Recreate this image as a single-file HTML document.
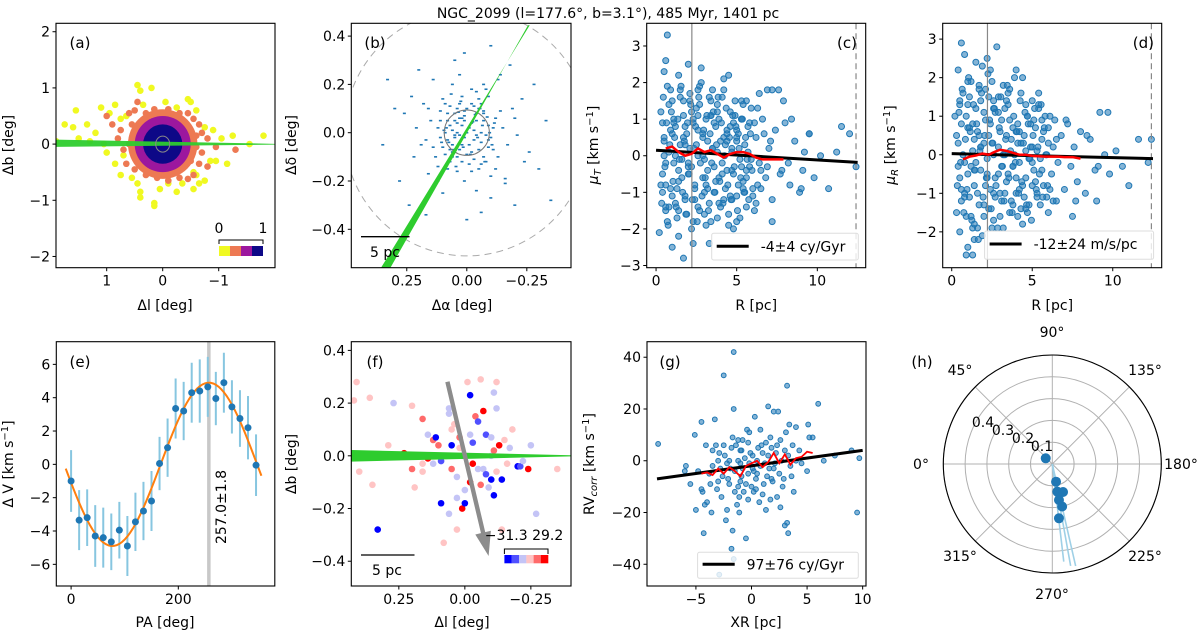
<!DOCTYPE html>
<html><head><meta charset="utf-8"><style>
html,body{margin:0;padding:0;background:#fff}
svg{display:block;font-family:"DejaVu Sans","Liberation Sans",sans-serif}
</style></head><body>
<svg id="fig" width="1200" height="633" viewBox="0 0 1200 633" xmlns="http://www.w3.org/2000/svg">
<text x="608" y="18" font-size="14" text-anchor="middle">NGC_2099 (l=177.6°, b=3.1°), 485 Myr, 1401 pc</text>
</svg>
<script>
// ---------- data ----------
const aYellowL=[1.55,1.75,1.6,1.35,1.1,0.95,0.85,0.75,1.2,1.5,1.9,1.3,1.05,0.45,0.4,0.2,0.65,0.35,-0.05,-0.25,-0.45,-0.5,-0.6,-0.75,-0.9,-1.05,-1.25,-1.8,-1.55,0.85,0.75,0.55,0.45,0.4,0.4,0.15,0.15,0.05,-0.1,-0.25,-0.35,-0.55,-0.65,-0.75,-0.85,-0.95,-1.15,-0.55,-0.6,1.0,0.7];
const aYellowB=[0.6,0.35,0.3,0.35,0.65,0.55,0.7,0.45,0.2,0.1,0.05,0.05,0.0,1.05,0.95,1.0,0.5,0.7,0.75,0.65,0.8,0.75,0.6,0.3,0.25,0.1,0.15,0.15,0.0,-0.35,-0.55,-0.6,-0.7,-0.85,-0.95,-1.05,-1.1,-0.8,-0.7,-0.85,-0.7,-0.8,-0.7,-0.65,-0.3,-0.3,-0.35,-0.5,-0.55,-0.15,-0.2];
const aOrangeL=[1.0,0.9,0.75,0.8,0.7,0.6,0.5,0.3,0.15,-0.1,-0.3,-0.45,-0.55,-0.65,-0.7,-0.8,-0.95,-0.7,-0.8,-0.65,-0.55,-0.45,-0.3,-0.1,0.1,0.3,0.5,0.65,0.55,-0.5,0.45,-0.6,-1.3,0.4,-0.4,0.6,-0.6];
const aOrangeB=[0.5,0.35,0.25,0.1,-0.1,0.55,0.6,0.55,0.62,0.62,0.55,0.55,0.45,0.35,0.2,0.1,-0.05,-0.15,-0.4,-0.35,-0.55,-0.62,-0.6,-0.65,-0.6,-0.55,-0.45,-0.35,0.35,-0.3,0.75,0.15,-0.1,-0.3,0.35,0.0,-0.05];
const aBlobRadii=[0.62,0.5,0.35];
const aBlobColors=['#ed7953','#9c179e','#0d0887'];

const bA=[0,0.02,-0.03,0.05,-0.06,0.01,-0.02,0.08,-0.09,0.04,-0.05,0.1,-0.11,0.07,-0.08,0.12,-0.12,0.03,-0.01,0.06,-0.04,0.02,-0.07,0.09,0.0,0.11,-0.1,0.05,-0.03,0.08,-0.06,0.13,-0.13,0.02,-0.02,0.04,-0.05,0.15,-0.15,0.1,-0.09,0.12,-0.12,0.17,-0.17,0.01,0.06,-0.07,0.18,-0.19,0.16,-0.16,0.21,-0.21,0.03,-0.04,0.22,-0.23,0.1,-0.1,0.14,-0.14,0.26,-0.26,0.28,-0.28,0.2,-0.2,0.3,-0.3,0.05,-0.06,0.33,-0.33,0.17,-0.18,0.35,-0.35,0.24,-0.1,0.01,0.0,0.01,-0.01,0.03,-0.03,0.04,-0.04,0.02,-0.02,0.06,-0.06,0.03,-0.05,0.07,-0.07,0.01,-0.01,0.09,-0.08,0.05,-0.04,0.06,-0.09,0.0,0.08,-0.11,0.11,0.04,-0.02,0.07,-0.07,
0.015,-0.025,0.035,-0.045,0.055,-0.065,0.075,-0.085,0.095,-0.105,0.02,-0.03,0.04,-0.05,0.06,-0.07,0.08,-0.09,0.01,-0.015,0.025,-0.035,0.045,-0.055,0.065,-0.075,0.085,-0.095,0.105,-0.115,0.03,-0.02,0.05,-0.04,0.07,-0.06,0.09,-0.08,0.11,-0.1,0.14,-0.14,0.16,-0.16,0.19,-0.2,0.23,-0.24,0.12,-0.13];
const bD=[0,0.03,0.01,-0.02,-0.04,0.07,-0.08,0.05,0.03,-0.1,0.1,-0.06,-0.07,0.11,-0.12,0.02,0.06,0.12,-0.13,0.01,0.05,-0.05,0.08,-0.09,0.1,0.09,-0.02,0.08,-0.11,-0.03,0.12,-0.1,-0.1,0.15,0.18,-0.16,-0.15,0.05,0.02,0.14,0.15,-0.14,-0.15,-0.03,-0.05,-0.2,0.2,0.2,0.12,0.1,-0.17,-0.19,0.02,-0.01,0.24,-0.24,-0.1,0.14,-0.25,-0.27,0.22,0.24,0.08,-0.08,-0.2,0.2,0.26,-0.3,0.1,-0.15,0.3,-0.33,0.22,0.05,-0.34,0.28,-0.05,-0.28,-0.3,0.36,0.33,-0.36,-0.02,0.02,-0.01,-0.03,0.04,-0.01,0.06,0.04,-0.05,0.0,-0.07,-0.07,0.03,0.05,0.09,-0.05,0.0,-0.01,0.05,0.08,-0.08,-0.06,-0.09,0.08,0.02,-0.02,0.1,0.12,-0.12,-0.1,
-0.06,0.045,0.085,-0.02,-0.07,0.03,-0.04,0.065,0.01,-0.05,-0.12,0.11,0.0,0.14,-0.1,0.09,-0.15,-0.03,0.05,-0.09,0.13,0.075,-0.14,0.1,0.16,-0.12,0.02,0.0,-0.04,0.04,0.06,-0.16,-0.01,0.17,-0.07,-0.13,0.12,0.18,0.05,-0.18,-0.06,0.09,0.1,-0.21,-0.05,0.06,0.15,-0.12,-0.2,0.22];

const cR=[0.3,0.4,0.5,0.6,0.7,0.8,0.9,1.0,1.1,1.2,1.3,1.4,1.5,1.6,1.7,1.8,1.9,2.0,2.1,2.2,2.3,2.4,2.5,2.6,2.7,2.8,2.9,3.0,3.1,3.2,3.3,3.4,3.5,3.6,3.7,3.8,3.9,4.0,4.1,4.2,4.3,4.4,4.5,4.6,4.7,4.8,4.9,5.0,5.1,5.2,5.3,5.4,5.5,5.6,5.7,5.8,5.9,6.0,6.2,6.4,6.6,6.8,7.0,7.2,7.4,7.6,7.8,8.0,8.3,8.6,8.9,9.2,9.5,9.8,10.2,10.7,11.2,12.0,12.4,0.2,0.5,0.6,0.7,1.0,1.4,1.7,2.0,2.3,2.8,3.3,4.5,6.9,7.2,7.9,7.2,4.8,0.4,0.6,0.8,1.0,1.2,1.4,1.5,1.7,1.9,2.1,2.2,2.4,2.6,2.7,2.9,3.1,3.2,3.4,3.6,3.8,4.0,4.1,4.3,4.4,4.6,4.8,5.0,5.2,5.4,5.6,5.8,6.1,6.3,6.5,6.7,6.9,0.3,0.5,0.7,0.9,1.1,1.3,1.6,1.8,2.0,2.3,2.5,2.7,3.0,3.3,3.5,3.7,3.9,4.2,4.5,4.7,4.9,5.1,5.3,5.5,5.7,6.0,6.4,0.4,0.6,0.9,1.2,1.5,1.8,2.1,2.4,2.6,2.9,3.1,3.4,3.6,3.9,4.2,4.4,4.7,5.0,5.3,5.6,5.9,6.2,8.2,9.0,11.5,9.5,
0.35,0.45,0.55,0.65,0.75,0.85,0.95,1.05,1.15,1.25,1.35,1.45,1.55,1.65,1.75,1.85,1.95,2.05,2.15,2.25,2.35,2.45,2.55,2.65,2.75,2.85,2.95,3.05,3.15,3.25,3.35,3.45,3.55,3.65,3.75,3.85,3.95,4.05,4.15,4.25,4.35,4.45,4.55,4.65,4.75,4.85,4.95,5.05,5.15,5.25,5.35,5.45,5.55,5.65,5.75,5.85,5.95,6.1,6.3,6.5,0.5,0.8,1.1,1.4,1.7,2.0,2.3,2.6,2.9,3.2,3.5,3.8,4.1,4.4,4.7,5.0,5.3,5.6,0.6,1.0,1.4,1.8,2.2,2.6,3.0,3.4,3.8,4.2,4.6,5.0,5.4,7.1,7.7,8.4,9.1,9.7];
const cMu=[1.2,-0.5,0.4,-1.4,1.9,0.1,-0.9,1.5,-0.2,0.8,-1.7,2.2,0.3,-0.6,1.1,-1.2,0.6,-0.3,1.7,-2.0,0.9,-0.8,1.3,0.0,-1.5,2.0,0.5,-1.0,1.0,-0.4,1.6,-1.8,0.2,0.9,-0.7,1.4,-1.3,0.4,-0.2,2.1,-0.9,0.7,-1.6,1.2,0.1,-0.5,1.5,-1.1,0.6,-0.1,1.0,-0.7,0.3,-1.4,0.8,-0.3,1.3,-0.9,0.5,-0.2,1.0,-0.6,0.2,-1.2,0.7,1.8,-0.4,0.9,-0.8,0.4,-1.0,0.1,0.6,-0.6,0.0,-0.9,0.1,0.6,-0.3,-2.1,2.3,2.6,3.3,-2.5,-2.2,-2.8,2.5,-2.4,2.4,-2.4,2.2,1.8,1.8,1.5,-1.8,-2.0,0.9,-0.2,1.4,-1.1,0.0,-0.4,1.8,0.5,-1.6,0.2,1.2,-1.2,0.7,1.9,-0.6,-1.9,0.4,1.1,-1.0,0.1,-1.4,1.6,0.3,-0.4,-1.1,0.9,0.5,-1.7,1.4,-0.4,0.9,-1.5,1.3,-0.9,0.6,-0.3,-0.8,0.0,-1.8,0.7,1.0,-0.9,-0.1,0.8,-0.5,-1.8,0.3,1.4,-0.1,-1.3,1.8,0.8,-0.6,0.5,-1.9,0.2,1.1,-0.8,1.5,-1.0,0.1,-1.1,1.7,-1.0,-1.5,1.8,-1.3,1.6,-1.1,1.5,-0.9,1.1,0.0,-0.8,1.5,-0.3,1.0,-1.2,0.6,-0.4,0.4,1.0,-0.6,-0.1,-1.3,-0.2,-0.9,0.8,
0.6,-1.3,1.6,-0.3,0.9,-1.9,0.3,1.2,-0.7,0.5,-1.4,1.0,-0.1,1.9,-1.0,0.4,-1.6,0.9,-0.5,1.4,-1.2,0.2,0.8,-1.8,1.6,-0.2,-1.1,0.7,-0.6,1.1,-1.5,0.6,-0.2,1.2,-1.0,0.3,1.6,-0.7,0.9,-1.3,0.0,1.3,-0.8,0.5,-1.2,1.1,-0.3,0.8,-1.5,0.2,-0.6,1.0,-1.0,0.5,-0.1,-1.2,0.6,-0.4,0.9,-0.8,-0.4,0.5,-1.4,0.9,-0.7,1.5,-0.2,1.0,-1.4,0.6,-0.9,0.2,1.2,-0.5,0.4,-1.2,0.7,-0.3,1.5,-0.8,0.6,-1.5,0.3,-0.3,1.8,-1.6,1.1,-1.7,1.8,0.8,-1.8,-0.9,0.4,-0.5,1.0,-0.4];
const cRunR=[0.6,1.0,1.4,1.8,2.2,2.6,3.0,3.4,3.8,4.2,4.6,5.0,5.4,5.8,6.2,6.6,7.0,7.4,7.9];
const cRunMu=[0.2,0.25,0.1,0.0,0.05,0.2,0.1,0.15,0.05,-0.05,0.05,0.1,0.1,0.05,-0.05,-0.1,-0.1,-0.1,-0.1];
const cFit=[0.15,-0.18];

const dR=[0.2,0.3,0.4,0.5,0.6,0.7,0.8,0.9,1.0,1.1,1.2,1.3,1.4,1.5,1.6,1.7,1.8,1.9,2.0,2.1,2.2,2.3,2.4,2.5,2.6,2.7,2.8,2.9,3.0,3.1,3.2,3.3,3.4,3.5,3.6,3.7,3.8,3.9,4.0,4.1,4.2,4.3,4.4,4.5,4.6,4.7,4.8,4.9,5.0,5.1,5.2,5.3,5.4,5.5,5.6,5.7,5.8,5.9,6.0,6.2,6.4,6.6,6.8,7.0,7.2,7.4,7.6,7.8,8.0,8.3,8.6,8.9,9.2,9.5,9.8,10.2,10.6,11.0,11.6,12.4,12.2,1.0,1.3,1.4,1.9,2.5,0.4,0.8,1.5,2.2,2.4,4.0,4.4,9.0,7.5,6.0,0.3,0.5,0.6,0.7,0.9,1.0,1.1,1.2,1.3,1.5,1.6,1.7,1.8,2.0,2.1,2.3,2.4,2.6,2.7,2.9,3.0,3.1,3.3,3.4,3.6,3.7,3.9,4.0,4.2,4.3,4.5,4.6,4.8,5.0,5.1,5.3,5.5,5.7,5.9,6.1,6.3,6.5,0.4,0.6,0.8,1.0,1.2,1.4,1.6,1.8,2.0,2.2,2.5,2.7,2.9,3.1,3.3,3.5,3.8,4.0,4.3,4.6,4.9,5.2,5.6,6.0,0.5,0.9,1.3,1.7,2.1,2.6,3.2,3.6,4.1,4.7,5.4,
0.35,0.45,0.55,0.65,0.75,0.85,0.95,1.05,1.15,1.25,1.35,1.45,1.55,1.65,1.75,1.85,1.95,2.05,2.15,2.25,2.35,2.45,2.55,2.65,2.75,2.85,2.95,3.05,3.15,3.25,3.35,3.45,3.55,3.65,3.75,3.85,3.95,4.05,4.15,4.25,4.35,4.45,4.55,4.65,4.75,4.85,4.95,5.05,5.15,5.25,5.35,5.45,5.55,5.65,5.75,5.85,5.95,6.1,6.3,6.5,0.5,0.8,1.1,1.4,1.7,2.0,2.3,2.6,2.9,3.2,3.5,3.8,4.1,4.4,4.7,5.0,5.3,5.6,0.6,1.0,1.4,1.8,2.2,2.6,3.0,3.4,3.8,4.2,4.6,5.0,5.4,7.1,7.7,8.4,9.1,9.7];
const dMu=[1.0,-1.5,0.3,-0.6,2.9,1.6,-0.2,-2.6,0.7,-1.1,1.9,0.1,-0.8,1.2,-1.9,0.5,-0.4,2.3,-1.3,0.9,-0.1,1.5,-0.9,0.3,-1.7,1.1,2.8,-0.5,0.6,-1.2,1.8,0.0,-0.7,1.3,-1.5,0.4,-0.3,2.0,-1.0,0.8,-0.2,1.6,-1.8,0.5,-0.6,1.0,-1.3,0.2,1.4,-0.4,0.7,-1.0,1.2,-0.1,0.4,-0.8,1.0,-1.1,0.3,-0.5,0.9,-0.2,0.5,-0.9,0.8,-0.3,0.2,-0.7,0.6,-1.0,0.4,-0.4,1.1,0.0,-0.5,0.1,-0.3,-0.8,0.4,0.4,-0.2,-2.4,-2.6,-2.2,-2.1,-1.9,2.2,2.6,2.4,2.5,2.2,2.2,2.0,-1.2,-1.6,-1.5,0.5,1.3,-1.2,0.0,1.0,-0.5,1.5,-1.6,0.8,-0.2,0.6,-1.3,1.4,0.3,-0.8,-1.4,0.8,0.0,-0.6,1.5,-1.6,0.9,-1.0,0.5,0.9,-1.2,0.0,0.6,-0.9,0.3,-1.1,1.3,-0.1,-0.8,0.9,0.1,-1.3,0.6,0.0,-0.9,0.2,-1.2,-0.3,0.8,-1.0,1.3,-0.3,0.4,-1.0,0.2,1.1,-0.6,1.9,-1.1,0.2,-0.3,1.2,-0.5,0.7,-0.6,-1.4,0.1,0.8,-0.7,-0.4,0.7,-2.0,-1.6,-1.9,1.8,1.7,1.4,-1.9,1.7,-1.6,-1.5,1.6,
-0.8,1.1,-0.2,1.7,-1.5,0.4,-0.9,2.0,0.6,-1.7,1.3,-0.4,0.8,-2.2,0.1,1.6,-1.1,0.5,-0.6,2.1,0.9,-1.4,0.3,1.2,-0.8,-1.9,0.7,1.5,-0.3,-1.2,0.4,1.8,-0.6,0.1,-1.5,1.0,-0.2,0.6,-1.0,1.4,-0.7,0.3,1.1,-1.3,0.8,-0.1,-1.7,0.5,1.2,-0.9,0.2,-0.5,1.3,-1.1,0.7,0.0,-0.8,1.0,-1.2,0.4,1.4,-1.1,0.7,-0.4,1.7,-1.6,0.5,-1.0,1.1,0.0,1.6,-1.3,0.3,-0.8,1.0,0.2,-1.1,0.9,-0.9,1.9,-1.8,0.2,-0.5,1.2,-1.0,1.4,-0.3,0.6,-1.4,-0.2,1.3,0.9,-1.2,0.5,-0.3,1.1];
const dRunR=[0.7,1.1,1.5,1.9,2.3,2.7,3.0,3.4,3.8,4.2,4.6,5.0,5.4,5.8,6.2,6.6,7.0,7.5,8.0];
const dRunMu=[-0.12,-0.05,-0.02,0.03,0.0,0.08,0.13,0.1,0.05,0.0,0.0,-0.03,-0.04,-0.05,-0.05,-0.05,-0.06,-0.06,-0.1];
const dFit=[0.03,-0.1];

const ePA=[0,15,30,45,60,75,90,105,120,135,150,165,180,195,210,225,240,255,270,285,300,315,330,345];
const eDV=[-1.0,-3.35,-3.2,-4.3,-4.4,-4.65,-3.95,-4.9,-3.45,-2.8,-2.2,0.05,1.0,3.35,3.2,4.3,4.4,4.65,3.95,4.9,3.45,2.75,2.2,-0.05];
const eErr=[1.85,1.8,1.7,1.85,1.8,1.7,1.7,1.8,1.75,1.75,1.8,1.6,1.75,1.8,1.75,1.8,1.9,1.8,1.6,1.8,1.6,1.7,1.9,1.85];
const eFitAmp=4.9, eFitPhase=257.0;

const fL=[0.41,0.42,0.36,0.27,0.4,0.35,0.29,0.2,0.23,0.33,0.16,0.14,0.12,0.2,0.19,0.16,0.14,0.1,0.11,0.09,0.12,0.06,0.06,0.05,0.05,0.04,0.03,0.03,0.02,0.01,0.0,0.06,0.09,0.08,0.03,-0.02,-0.01,0.02,0.01,-0.02,-0.03,-0.04,-0.05,-0.06,-0.07,-0.08,-0.1,-0.11,-0.12,-0.12,-0.05,-0.07,-0.09,-0.1,-0.12,-0.14,-0.11,-0.13,-0.15,-0.16,-0.17,-0.18,-0.2,-0.21,-0.22,-0.24,-0.25,-0.27,-0.35,-0.03,-0.06,0.0,0.05,-0.02,0.07,-0.1,0.16,-0.14,-0.08,-0.11];
const fB=[0.28,0.21,0.22,0.2,-0.06,-0.11,0.04,0.19,0.01,-0.28,0.14,0.08,0.06,-0.05,-0.12,-0.06,-0.01,0.04,0.07,-0.02,-0.03,0.16,0.18,0.1,0.04,0.12,-0.08,-0.16,0.03,-0.2,-0.18,-0.22,-0.18,-0.33,-0.28,0.23,0.28,0.07,0.0,0.08,0.05,0.15,0.13,0.29,0.17,0.08,0.07,0.24,0.18,0.28,-0.05,-0.05,-0.12,-0.09,-0.06,-0.09,-0.15,0.04,0.06,-0.03,0.03,0.1,-0.04,-0.04,-0.02,-0.05,0.04,-0.22,-0.05,-0.03,-0.11,-0.13,-0.05,-0.1,0.0,0.0,-0.03,-0.28,-0.07,0.02];
const fC=[3,3,3,2,3,3,3,3,5,0,4,2,4,4,3,3,5,4,0,1,2,2,2,3,0,3,2,2,3,5,0,2,0,3,3,0,3,4,2,2,1,4,1,3,5,1,2,2,2,3,2,2,2,0,3,0,0,5,3,3,2,3,0,1,2,5,2,2,3,5,4,2,4,5,2,2,3,3,1,4];
const fPalette=['#0000ff','#5050ff','#c4c4f6','#ffc4c4','#ff6a6a','#ff0000'];
const fArrow=[0.066,0.281,-0.09,-0.38];

const gX=[-8.4,-5.9,-5.5,-5.1,-5,-4.5,-4.4,-4.3,-4.2,-4.1,-4,-3.8,-3.7,-3.5,-3.3,-3.2,-3.1,-3,-2.9,-2.8,-2.7,-2.6,-2.5,-2.5,-2.4,-2.3,-2.2,-2.1,-2,-1.9,-1.8,-1.7,-1.7,-1.6,-1.6,-1.5,-1.4,-1.3,-1.2,-1.2,-1.1,-1.1,-1,-1,-0.9,-0.8,-0.8,-0.7,-0.6,-0.5,-0.4,-0.3,-0.3,-0.2,-0.1,0,0.1,0.2,0.3,0.4,0.5,0.6,0.7,0.8,0.9,1,1.1,1.2,1.3,1.4,1.5,1.5,1.6,1.7,1.8,1.9,2,2.1,2.2,2.3,2.4,2.5,2.6,2.7,2.8,2.9,3,3,3.1,3.2,3.2,3.3,3.4,3.5,3.6,3.8,4,4.3,4.5,5,5.1,5.2,5.5,6,6.5,7.5,9,9.5,9.7,-2,-1,0.5,1,2,-3,-0.5,0.2,1.3,-1.5,-0.2,-6,-4.8,-3.5,-2.2,-0.3,0.8,2.3,4,-1.8,-2.9,-1.6,3.3,1.7,-0.9,0.1,2.6,3.7,-3.6,-4.5,0.4,1.8,-1.2];
const gRV=[6.5,-2,-9,10,-19,15,-12,-28,-17,6,-16,-5,-9,-2,16,6,-11,-8,3,-3,-14,-6,33,6,2,-23,-19,-7,-9,-3,5,9,-27,20,42,-4,6,-17,0,-10,-14,-20,4,-8,-6,8,-3,-12,1,-30,12,-5,7,-1,3,-10,2,-4,17,-7,0,5,-16,-2,6,-13,-9,-1,7,-6,21,2,-3,-15,5,-8,19,-1,3,-14,19,-5,8,0,-10,-7,4,-25,11,29,-24,2,14,-2,-6,-12,13,4,-1,-4,14,9,9,22,0,2,4,-20,1,0,-1,-5,3,-3,0,-9,-12,-19,-12,11,-4,-4,4,-1,-15,12,6,0,-34,-44,-38,-28,9,4,-3,-18,6,-20,-11,-11,-7,8];
const gRunX=[-4.5,-4,-3.5,-3,-2.5,-2,-1.5,-1,-0.5,0,0.5,1,1.5,2,2.5,3,3.5,4,4.5,5,5.5];
const gRunRV=[-5,-4.5,-5.5,-3,-5,-2.5,-4,-6,-2,-1,0,-2.5,-0.5,3,-1,2.5,-1.5,1,1.5,3.5,3];
const gFitX=[-8.5,10], gFitY=[-7,4];

const hTheta=[41,258,259.8,249,259.5,257,263];
const hR=[0.04,0.083,0.129,0.1375,0.168,0.2,0.251];
const hLineTheta=[263.3,259.8,257.1];
const hLineR=[0.451,0.475,0.48];
const hRings=[0.1,0.2,0.3,0.4,0.5];
const hSpokes=[0,45,90,135,180,225,270,315];

// ---------- helpers ----------
const NS='http://www.w3.org/2000/svg';
const svg=document.getElementById('fig');
function S(tag,attrs,parent){const e=document.createElementNS(NS,tag);for(const k in attrs)e.setAttribute(k,attrs[k]);(parent||svg).appendChild(e);return e;}
function lin(d0,d1,p0,p1){return v=>p0+(v-d0)*(p1-p0)/(d1-d0);}
let clipN=0;
function axes(name,box,xd,yd){
  const g=S('g',{});
  
  
  const id='clip'+(clipN++);
  const cp=S('clipPath',{id:id},g);
  S('rect',{x:box.l,y:box.t,width:box.r-box.l,height:box.b-box.t},cp);
  const plot=S('g',{'clip-path':'url(#'+id+')'},g);
  
  
  return {g,plot,box,x:lin(xd[0],xd[1],box.l,box.r),y:lin(yd[0],yd[1],box.b,box.t)};
}
function frame(ax,xt,xl,yt,yl){
  const b=ax.box;
  const fr=S('rect',{x:b.l,y:b.t,width:b.r-b.l,height:b.b-b.t,fill:'none',stroke:'#000','stroke-width':1.1},ax.g);
  
  
  xt.forEach((v,i)=>{const px=ax.x(v);
    S('line',{x1:px,x2:px,y1:b.b,y2:b.b+3.5,stroke:'#000'},ax.g);
    const t=S('text',{x:px,y:b.b+18,'font-size':14,'text-anchor':'middle'},ax.g);
    t.textContent=xl[i];
    
    });
  yt.forEach((v,i)=>{const py=ax.y(v);
    S('line',{x1:b.l-3.5,x2:b.l,y1:py,y2:py,stroke:'#000'},ax.g);
    const t=S('text',{x:b.l-6,y:py+5,'font-size':14,'text-anchor':'end'},ax.g);
    t.textContent=yl[i];
    
    });
}
function label(txt,x,y,rot,parent,name,size){
  const t=S('text',{x:x,y:y,'font-size':size||14,'text-anchor':'middle',transform:rot?`rotate(-90 ${x} ${y})`:''},parent);
  t.innerHTML=txt;
  
  
  return t;
}
function dot(ax,x,y,r,fill,stroke,op,name){
  const c=S('circle',{cx:ax.x(x),cy:ax.y(y),r:r,fill:fill,stroke:stroke||'none','fill-opacity':op==null?1:op},ax.plot);
  
  
  return c;
}
function poly(ax,xs,ys,attrs,name){
  const p=S('polyline',Object.assign({points:xs.map((v,i)=>ax.x(v)+','+ax.y(ys[i])).join(' '),fill:'none'},attrs),ax.plot);
  
  
  return p;
}
const MIN='\u2212';
const blue='#1f77b4';

// ---------- (a) ----------
{const ax=axes('panel-a',{l:56,r:275,t:23.3,b:267.7},[1.905,-2.005],[-2.2,2.15]);
 aYellowL.forEach((v,i)=>dot(ax,v,aYellowB[i],3.3,'#f0f921',null,1,'yellow-point'));
 aOrangeL.forEach((v,i)=>dot(ax,v,aOrangeB[i],3.3,'#ed7953',null,1,'orange-point'));
 aBlobRadii.forEach((r,i)=>{const e=S('ellipse',{cx:ax.x(0),cy:ax.y(0),rx:Math.abs(ax.x(r)-ax.x(0)),ry:Math.abs(ax.y(r)-ax.y(0)),fill:aBlobColors[i]},ax.plot);
   
   });
 const gb=S('polygon',{points:`${ax.x(1.905)},${ax.y(0.08)} ${ax.x(-2.0)},${ax.y(0.005)} ${ax.x(-2.0)},${ax.y(-0.01)} ${ax.x(1.905)},${ax.y(-0.05)}`,fill:'#2ecc2e','fill-opacity':0.95},ax.plot);
 
 
 const cc=S('ellipse',{cx:ax.x(0),cy:ax.y(0),rx:7,ry:8,fill:'none',stroke:'#888'},ax.plot);
 
 
 ['#f0f921','#ed7953','#9c179e','#0d0887'].forEach((c,i)=>{const r=S('rect',{x:219+i*11,y:246,width:11,height:10,fill:c},ax.g);
   
   });
 S('path',{d:'M219,244 V240 H263 V244',fill:'none',stroke:'#000'},ax.g);
 label('0',219,233,false,ax.g,'colorbar-label');
 label('1',263,233,false,ax.g,'colorbar-label');
 label('(a)',80,48,false,ax.g,'panel-label',15);
 frame(ax,[1,0,-1],['1','0',MIN+'1'],[2,1,0,-1,-2],['2','1','0',MIN+'1',MIN+'2']);
 label('Δl [deg]',165,310,false,ax.g,'x-axis-title');
 label('Δb [deg]',13,145,true,ax.g,'y-axis-title');
}
// ---------- (b) ----------
{const ax=axes('panel-b',{l:351.3,r:571,t:23.3,b:267.7},[0.481,-0.434],[-0.559,0.453]);
 bA.forEach((v,i)=>{const r=S('rect',{x:ax.x(v)-1.5,y:ax.y(bD[i])-0.8,width:3,height:1.6,fill:blue},ax.plot);
   
   });
 const dc=S('ellipse',{cx:ax.x(0),cy:ax.y(0),rx:Math.abs(ax.x(0.51)-ax.x(0)),ry:Math.abs(ax.y(0.51)-ax.y(0)),fill:'none',stroke:'#aaa','stroke-dasharray':'7,5'},ax.plot);
 
 
 const sc=S('ellipse',{cx:ax.x(0),cy:ax.y(0),rx:Math.abs(ax.x(0.094)-ax.x(0)),ry:Math.abs(ax.y(0.094)-ax.y(0)),fill:'none',stroke:'#777'},ax.plot);
 
 
 const gb=S('polygon',{points:`${ax.x(0.37)},${ax.y(-0.58)} ${ax.x(-0.262)},${ax.y(0.445)} ${ax.x(-0.255)},${ax.y(0.445)} ${ax.x(0.33)},${ax.y(-0.58)}`,fill:'#2ecc2e'},ax.plot);
 
 
 S('line',{x1:361,x2:409.5,y1:236.7,y2:236.7,stroke:'#000','stroke-width':1.3},ax.g);
 label('5 pc',385,257,false,ax.g,'scale-bar-label');
 label('(b)',375,48,false,ax.g,'panel-label',15);
 frame(ax,[0.25,0,-0.25],['0.25','0.00',MIN+'0.25'],[0.4,0.2,0,-0.2,-0.4],['0.4','0.2','0.0',MIN+'0.2',MIN+'0.4']);
 label('Δα [deg]',462,310,false,ax.g,'x-axis-title');
 label('Δδ [deg]',296,145,true,ax.g,'y-axis-title');
}
// ---------- (c),(d) ----------
function muPanel(name,box,xd,yd,R,M,runR,runM,fit,yt,yl,leg,legBox,letter,letterX,ylab,ylx){
 const ax=axes(name,box,xd,yd);
 R.forEach((v,i)=>dot(ax,v,M[i],3,'#1f77b4','#1f77b4',0.55,'star-point'));
 [2.22].forEach(v=>{const l=S('line',{x1:ax.x(v),x2:ax.x(v),y1:box.t,y2:box.b,stroke:'#888','stroke-width':1.2},ax.plot);
   
   });
 const dl=S('line',{x1:ax.x(12.4),x2:ax.x(12.4),y1:box.t,y2:box.b,stroke:'#888','stroke-width':1.2,'stroke-dasharray':'6,4'},ax.plot);
 
 
 poly(ax,[0,12.5],fit,{stroke:'#000','stroke-width':3},'fit-line');
 poly(ax,runR,runM,{stroke:'#ff0000','stroke-width':2.5},'running-mean-line');
 const lb=S('rect',{x:legBox[0],y:legBox[1],width:legBox[2],height:legBox[3],fill:'#fff','fill-opacity':0.8,stroke:'#ddd',rx:2},ax.g);
 
 
 S('line',{x1:legBox[0]+5,x2:legBox[0]+37,y1:legBox[1]+13,y2:legBox[1]+13,stroke:'#000','stroke-width':3},ax.g);
 const lt=S('text',{x:legBox[0]+49,y:legBox[1]+18,'font-size':14},ax.g);
 lt.textContent=leg;
 
 
 const pl=S('text',{x:letterX,y:48,'font-size':15,'text-anchor':'end'},ax.g);
 pl.textContent=letter;
 
 
 frame(ax,[0,5,10],['0','5','10'],yt,yl);
 label('R [pc]',(box.l+box.r)/2,310,false,ax.g,'x-axis-title');
 label(ylab,ylx,145,true,ax.g,'y-axis-title');
}
muPanel('panel-c',{l:646.7,r:865.7,t:23.3,b:267.7},[-0.58,13.0],[-3.06,3.62],cR,cMu,cRunR,cRunMu,cFit,[3,2,1,0,-1,-2,-3],['3','2','1','0',MIN+'1',MIN+'2',MIN+'3'],'-4±4 cy/Gyr',[711.7,233.3,146.6,26.7],'(c)',857,'<tspan font-style="italic">μ</tspan><tspan font-size="10" font-style="italic" dy="3">T</tspan><tspan dy="-3"> [km s</tspan><tspan font-size="10" dy="-5">−1</tspan><tspan dy="5">]</tspan>',598);
muPanel('panel-d',{l:942.7,r:1161.7,t:23.3,b:267.7},[-0.56,13.04],[-2.93,3.41],dR,dMu,dRunR,dRunMu,dFit,[3,2,1,0,-1,-2],['3','2','1','0',MIN+'1',MIN+'2'],'-12±24 m/s/pc',[984.6,231,169,28.3],'(d)',1154,'<tspan font-style="italic">μ</tspan><tspan font-size="10" font-style="italic" dy="3">R</tspan><tspan dy="-3"> [km s</tspan><tspan font-size="10" dy="-5">−1</tspan><tspan dy="5">]</tspan>',895);

// ---------- (e) ----------
{const ax=axes('panel-e',{l:56.3,r:274.8,t:341.7,b:586},[-27.6,380],[-7.3,7.36]);
 const vl=S('line',{x1:ax.x(eFitPhase),x2:ax.x(eFitPhase),y1:341.7,y2:586,stroke:'#c8c8c8','stroke-width':3.5},ax.plot);
 
 
 ePA.forEach((v,i)=>{const l=S('line',{x1:ax.x(v),x2:ax.x(v),y1:ax.y(eDV[i]-eErr[i]),y2:ax.y(eDV[i]+eErr[i]),stroke:'#87c6e0','stroke-width':2},ax.plot);
   
   });
 const fx=[],fy=[];
 for(let p=-10;p<=355;p+=5){fx.push(p);fy.push(eFitAmp*Math.cos((p-eFitPhase)*Math.PI/180));}
 poly(ax,fx,fy,{stroke:'#ff7f0e','stroke-width':2},'sine-fit');
 ePA.forEach((v,i)=>dot(ax,v,eDV[i],3.5,blue,null,1,'binned-point'));
 const tt=S('text',{x:226,y:507,'font-size':14,'text-anchor':'middle',transform:'rotate(-90 226 507)'},ax.g);
 tt.textContent='257.0±1.8';
 
 
 label('(e)',80,367,false,ax.g,'panel-label',15);
 frame(ax,[0,200],['0','200'],[6,4,2,0,-2,-4,-6],['6','4','2','0',MIN+'2',MIN+'4',MIN+'6']);
 label('PA [deg]',165,627,false,ax.g,'x-axis-title');
 label('Δ V [km s<tspan font-size="10" dy="-5">−1</tspan><tspan dy="5">]</tspan>',13,464,true,ax.g,'y-axis-title');
}
// ---------- (f) ----------
{const ax=axes('panel-f',{l:351.3,r:571,t:341.7,b:586},[0.43,-0.402],[-0.494,0.433]);
 fL.forEach((v,i)=>dot(ax,v,fB[i],3.3,fPalette[fC[i]],null,1,'rv-point'));
 const gb=S('polygon',{points:`${ax.x(0.43)},${ax.y(0.022)} ${ax.x(-0.402)},${ax.y(0.002)} ${ax.x(-0.402)},${ax.y(-0.002)} ${ax.x(0.43)},${ax.y(-0.022)}`,fill:'#2ecc2e'},ax.plot);
 
 
 const x1=ax.x(fArrow[0]),y1=ax.y(fArrow[1]),x2=ax.x(fArrow[2]),y2=ax.y(fArrow[3]);
 const ang=Math.atan2(y2-y1,x2-x1),hl=24,hw=8,sw=2.2;
 const bx=x2-hl*Math.cos(ang),by=y2-hl*Math.sin(ang),nx=-Math.sin(ang),ny=Math.cos(ang);
 const ar=S('polygon',{points:`${x1+nx*sw},${y1+ny*sw} ${bx+nx*sw},${by+ny*sw} ${bx+nx*hw},${by+ny*hw} ${x2},${y2} ${bx-nx*hw},${by-ny*hw} ${bx-nx*sw},${by-ny*sw} ${x1-nx*sw},${y1-ny*sw}`,fill:'#8c8c8c'},ax.plot);
 
 
 S('line',{x1:361,x2:414.5,y1:555,y2:555,stroke:'#000','stroke-width':1.3},ax.g);
 label('5 pc',387,575,false,ax.g,'scale-bar-label');
 fPalette.forEach((c,i)=>{const r=S('rect',{x:504.4+i*7.3,y:555,width:7.4,height:8.3,fill:c},ax.g);
   
   });
 S('path',{d:'M504.4,554 V549 H548 V554',fill:'none',stroke:'#000'},ax.g);
 const cl=S('text',{x:524,y:540,'font-size':14,'text-anchor':'middle'},ax.g);
 cl.textContent=MIN+'31.3 29.2';
 
 
 label('(f)',375,367,false,ax.g,'panel-label',15);
 frame(ax,[0.25,0,-0.25],['0.25','0.00',MIN+'0.25'],[0.4,0.2,0,-0.2,-0.4],['0.4','0.2','0.0',MIN+'0.2',MIN+'0.4']);
 label('Δl [deg]',462,627,false,ax.g,'x-axis-title');
 label('Δb [deg]',296,464,true,ax.g,'y-axis-title');
}
// ---------- (g) ----------
{const ax=axes('panel-g',{l:647,r:866,t:341.7,b:586},[-9.4,10.3],[-48.4,46]);
 gX.forEach((v,i)=>dot(ax,v,gRV[i],2.4,blue,blue,0.55,'star-point'));
 poly(ax,gFitX,gFitY,{stroke:'#000','stroke-width':3},'fit-line');
 poly(ax,gRunX,gRunRV,{stroke:'#ff0000','stroke-width':1.8},'running-mean-line');
 const lb=S('rect',{x:697.6,y:552.3,width:160.7,height:26,fill:'#fff','fill-opacity':0.8,stroke:'#ddd',rx:2},ax.g);
 
 
 S('line',{x1:702.6,x2:734.7,y1:564.3,y2:564.3,stroke:'#000','stroke-width':3},ax.g);
 const lt=S('text',{x:746.6,y:569.5,'font-size':14},ax.g);
 lt.textContent='97±76 cy/Gyr';
 
 
 label('(g)',670,367,false,ax.g,'panel-label',15);
 frame(ax,[-5,0,5,10],[MIN+'5','0','5','10'],[40,20,0,-20,-40],['40','20','0',MIN+'20',MIN+'40']);
 label('XR [pc]',756,627,false,ax.g,'x-axis-title');
 label('RV<tspan font-size="10" font-style="italic" dy="3">corr</tspan><tspan dy="-3"> [km s</tspan><tspan font-size="10" dy="-5">−1</tspan><tspan dy="5">]</tspan>',594,464,true,ax.g,'y-axis-title');
}
// ---------- (h) polar ----------
{const g=S('g',{});
 
 
 const cx=1052.3,cy=464,K=218;
 const P=(th,r)=>[cx-r*K*Math.cos(th*Math.PI/180),cy-r*K*Math.sin(th*Math.PI/180)];
 hRings.forEach(r=>{const c=S('circle',{cx:cx,cy:cy,r:r*K,fill:'none',stroke:'#b0b0b0','stroke-width':1},g);
   
   });
 hSpokes.forEach(th=>{const p=P(th,0.5);const l=S('line',{x1:cx,y1:cy,x2:p[0],y2:p[1],stroke:'#b0b0b0'},g);
   
   });
 const oc=S('circle',{cx:cx,cy:cy,r:0.5*K,fill:'none',stroke:'#000','stroke-width':1.1},g);
 
 
 hLineTheta.forEach((th,i)=>{const p=P(th,hLineR[i]);const l=S('line',{x1:cx,y1:cy,x2:p[0],y2:p[1],stroke:'#9fd0e6','stroke-width':1.6},g);
   
   });
 hTheta.forEach((th,i)=>{const p=P(th,hR[i]);const c=S('circle',{cx:p[0],cy:p[1],r:5,fill:blue},g);
   
   });
 const angLab=[['90°',1052,337],['45°',960,375],['135°',1145,375],['0°',921,469],['180°',1181,469],['315°',960,561],['225°',1145,561],['270°',1052,599]];
 angLab.forEach(a=>label(a[0],a[1],a[2],false,g,'angle-label'));
 [['0.4',983,427],['0.3',1003,435],['0.2',1023,443],['0.1',1042,451]].forEach(a=>label(a[0],a[1],a[2],false,g,'radius-label'));
 label('(h)',922,367,false,g,'panel-label',15);
}
</script>
</body></html>
